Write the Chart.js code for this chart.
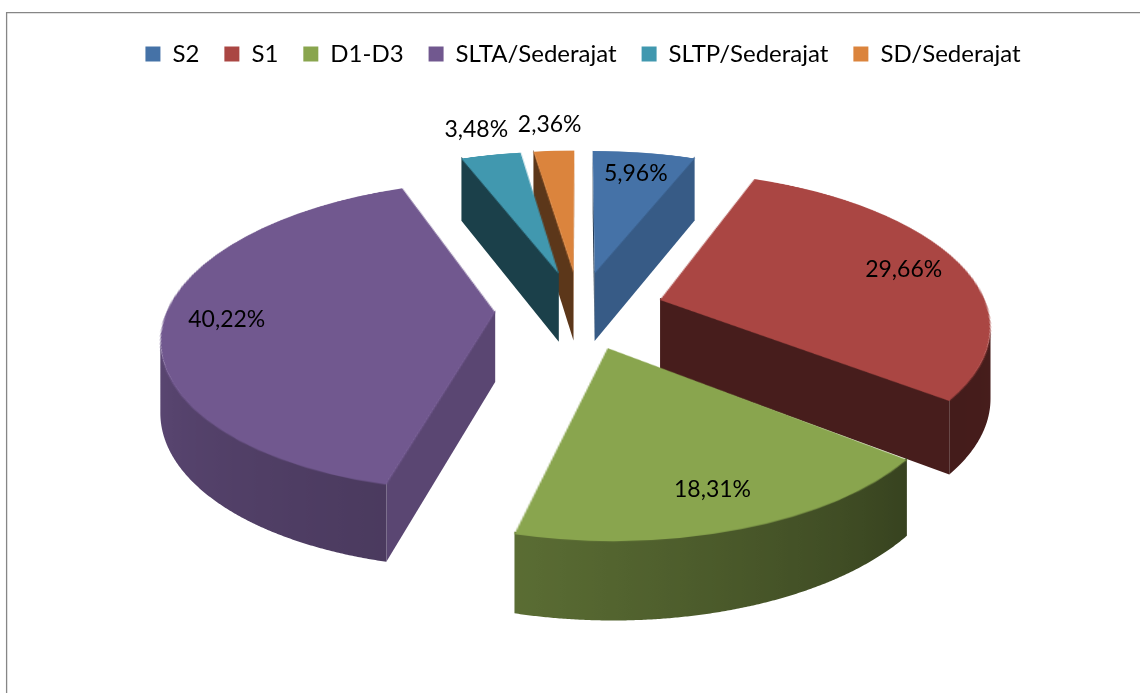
<!DOCTYPE html>
<html><head><meta charset="utf-8">
<script src="https://cdn.jsdelivr.net/npm/chart.js@4.4.1/dist/chart.umd.min.js"></script>
<style>html,body{margin:0;padding:0;background:#fff;}canvas{display:block}</style>
</head><body>
<canvas id="c" width="1140" height="693"></canvas>
<script>
// ---- data ----
const categories = ['S2', 'S1', 'D1-D3', 'SLTA/Sederajat', 'SLTP/Sederajat', 'SD/Sederajat'];
const percentages = [5.96, 29.66, 18.31, 40.22, 3.48, 2.36];
const sliceColors = ['#4572A7', '#AA4643', '#89A54E', '#71588F', '#4198AF', '#DB843D'];

// ---- 3D view settings (style only) ----
const VIEW = {cx: 579.5, cy: 310, A: 328, B: 151, k: 0.151, depth: 69.5, kd: 0.1, explode: 0.257, flatR: 220,
              labelIn: 0.81, labelOut: 1.25, outsideBelow: 5};
const WALL_LIGHT = [[0,0.42],[90,0.42],[128,0.40],[194,0.66],[260,0.80],[300,0.80],[360,0.42]];

function shade(hex, f){ const n = parseInt(hex.slice(1),16); const r=(n>>16)&255,g=(n>>8)&255,b=n&255;
  return 'rgb(' + Math.round(r*f) + ',' + Math.round(g*f) + ',' + Math.round(b*f) + ')'; }
function interp(pts, x){ for (let i=0;i<pts.length-1;i++){ if (x>=pts[i][0] && x<=pts[i+1][0]) { const t=(x-pts[i][0])/(pts[i+1][0]-pts[i][0]); return pts[i][1]+t*(pts[i+1][1]-pts[i][1]); } } return pts[pts.length-1][1]; }
function faceLight(t){ return (t>0 && t<180) ? 0.80 : 0.42; }
function refDeg(a){ let d = a*180/Math.PI + 90; return ((d%360)+360)%360; }
function proj(u, v, z){ const w = 1 + VIEW.k*v; return [VIEW.cx + VIEW.A*u/w, VIEW.cy - VIEW.B*v/w + z*VIEW.depth/(1 + VIEW.kd*v)]; }
function poly(ctx, pts, fill){ ctx.beginPath(); ctx.moveTo(pts[0][0], pts[0][1]); for (let i=1;i<pts.length;i++) ctx.lineTo(pts[i][0], pts[i][1]); ctx.closePath(); ctx.fillStyle = fill; ctx.fill(); }

const Z_TOP = -0.03;
const pie3d = {
  id: 'pie3d',
  afterDatasetsDraw(chart){
    const ctx = chart.ctx;
    const arcs = chart.getDatasetMeta(0).data;
    if (!arcs.length) return;
    const R = arcs[0].outerRadius, fx = arcs[0].x, fy = arcs[0].y;
    ctx.save();
    ctx.clearRect(fx-R-4, fy-R-4, 2*R+8, 2*R+8);
    const camV = -1/VIEW.k;
    const vis = (nu, nv, pu, pv) => nu*(0-pu) + nv*(camV-pv) > 0;
    const slices = arcs.map((a, i) => { const h = (a.startAngle + a.endAngle)/2;
      return {a, i, a0: a.startAngle, a1: a.endAngle, h, ue: VIEW.explode*Math.cos(h), ve: -VIEW.explode*Math.sin(h), color: sliceColors[i]}; });
    // side walls, back to front
    const order = slices.slice().sort((p, q) => q.ve - p.ve);
    for (const s of order) {
      const faceAngles = [];
      { const nu = Math.sin(s.a0), nv = Math.cos(s.a0); if (vis(nu, nv, s.ue, s.ve)) faceAngles.push([s.a0, Math.atan2(-nv, nu)]); }
      { const nu = -Math.sin(s.a1), nv = -Math.cos(s.a1); if (vis(nu, nv, s.ue, s.ve)) faceAngles.push([s.a1, Math.atan2(-nv, nu)]); }
      for (const [ang, nAng] of faceAngles) {
        const pu = s.ue + Math.cos(ang), pv = s.ve - Math.sin(ang);
        poly(ctx, [proj(s.ue, s.ve, Z_TOP), proj(pu, pv, Z_TOP), proj(pu, pv, 1), proj(s.ue, s.ve, 1)], shade(s.color, faceLight(refDeg(nAng))));
      }
      // outer curved wall as one polygon with a horizontal light gradient
      const n = Math.max(4, Math.ceil((s.a1 - s.a0)/0.005));
      const samp = [];
      for (let j = 0; j <= n; j++) {
        const b = s.a0 + (s.a1 - s.a0)*j/n;
        const nu = Math.cos(b), nv = -Math.sin(b);
        if (!vis(nu, nv, s.ue + nu, s.ve + nv)) continue;
        samp.push({b, top: proj(s.ue + nu, s.ve + nv, Z_TOP), bot: proj(s.ue + nu, s.ve + nv, 1)});
      }
      if (samp.length >= 2) {
        const pts = samp.map(p => p.top).concat(samp.slice().reverse().map(p => p.bot));
        const x0 = samp[0].top[0], x1 = samp[samp.length-1].top[0];
        let fill = shade(s.color, interp(WALL_LIGHT, refDeg(samp[0].b)));
        if (Math.abs(x1 - x0) > 1) {
          const g = ctx.createLinearGradient(x0, 0, x1, 0);
          for (let j = 0; j < samp.length; j += 4) {
            const off = Math.min(1, Math.max(0, (samp[j].top[0] - x0)/(x1 - x0)));
            g.addColorStop(off, shade(s.color, interp(WALL_LIGHT, refDeg(samp[j].b))));
          }
          g.addColorStop(1, shade(s.color, interp(WALL_LIGHT, refDeg(samp[samp.length-1].b))));
          fill = g;
        }
        poly(ctx, pts, fill);
      }
    }
    // top faces: each slice drawn by Chart.js, then projected
    const S = Math.ceil(2*R + 8);
    const off = document.createElement('canvas'); off.width = S; off.height = S;
    const oc = off.getContext('2d');
    const c0 = S/2;
    ctx.imageSmoothingEnabled = true; ctx.imageSmoothingQuality = 'medium';
    for (const s of slices) {
      oc.setTransform(1,0,0,1,0,0); oc.clearRect(0,0,S,S);
      oc.translate(c0 - fx, c0 - fy);
      s.a.draw(oc);
      for (let Y = 0; Y < chart.height; Y++) {
        const t = (VIEW.cy - (Y + 0.5))/VIEW.B;
        const den = 1 - VIEW.k*t; if (den <= 0.05) continue;
        const v = t/den, vs = v - s.ve;
        if (vs > 1.02 || vs < -1.02) continue;
        const w = 1 + VIEW.k*v;
        const syc = c0 - vs*R;
        let sh = Math.max(1, R*w*w/VIEW.B);
        let sy0 = syc - sh/2; if (sy0 < 0) sy0 = 0; if (sy0 + sh > S) sy0 = S - sh;
        const sc = VIEW.A/(R*w);
        const dx = VIEW.cx + VIEW.A*s.ue/w - sc*c0;
        ctx.drawImage(off, 0, sy0, S, sh, dx, Y, S*sc, 1);
      }
    }
    // data labels
    ctx.fillStyle = '#000'; ctx.font = '23px Lato'; ctx.textAlign = 'center'; ctx.textBaseline = 'middle';
    for (const s of slices) {
      const val = percentages[s.i];
      const r = val < VIEW.outsideBelow ? VIEW.labelOut : VIEW.labelIn;
      const p = proj(s.ue + r*Math.cos(s.h), s.ve - r*Math.sin(s.h), 0);
      ctx.fillText(val.toFixed(2).replace('.', ',') + '%', p[0], p[1]);
    }
    ctx.restore();
  },
  afterDraw(chart){
    const ctx = chart.ctx; ctx.save();
    ctx.strokeStyle = '#868686'; ctx.lineWidth = 1.3;
    ctx.beginPath(); ctx.moveTo(6.6, chart.height + 2); ctx.lineTo(6.6, 12.6); ctx.lineTo(chart.width + 2, 12.6); ctx.stroke();
    ctx.restore();
  }
};

new Chart(document.getElementById('c'), {
  type: 'pie',
  data: { labels: categories, datasets: [{ data: percentages, backgroundColor: sliceColors, borderWidth: 0, radius: VIEW.flatR, offset: 0, hoverOffset: 0, clip: false }] },
  options: {
    responsive: false, animation: false, events: [],
    layout: { padding: { top: 17, left: 26, right: 0, bottom: 0 } },
    plugins: {
      legend: { position: 'top', labels: { boxWidth: 15, boxHeight: 15, padding: 25, color: '#000', font: { family: 'Lato', size: 24 } } },
      tooltip: { enabled: false }
    }
  },
  plugins: [pie3d]
});
</script>
</body></html>
